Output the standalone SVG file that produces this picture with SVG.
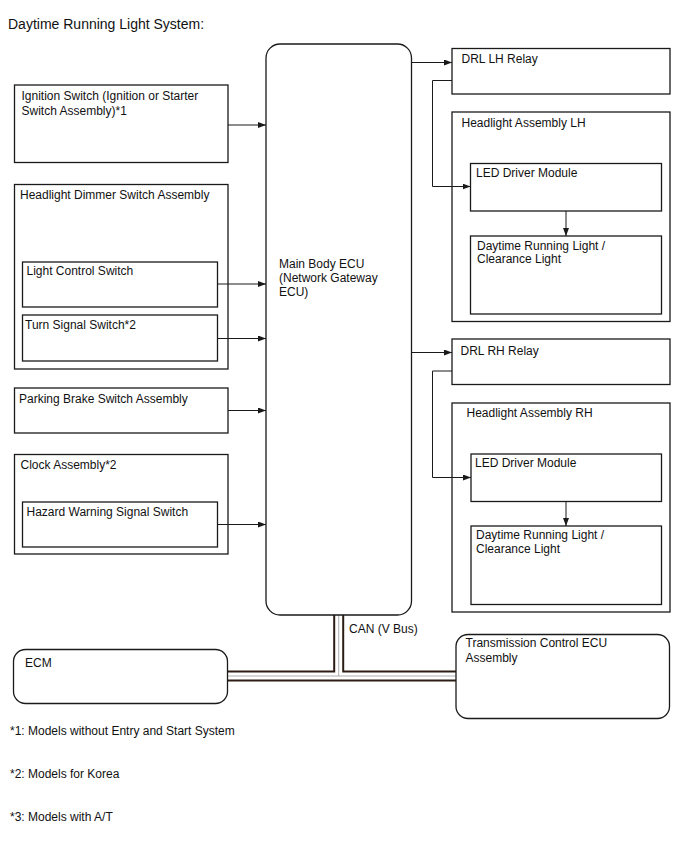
<svg xmlns="http://www.w3.org/2000/svg" width="688" height="852" viewBox="0 0 688 852">
<style>
text{font-family:"Liberation Sans",Arial,sans-serif;font-size:12px;fill:#111}
.b{fill:#fff;stroke:#1a1a1a;stroke-width:1.3}
.c{fill:none;stroke:#1a1a1a;stroke-width:1}
.t{font-size:14px}
</style>
<defs>
<marker id="a" viewBox="0 0 8 6" refX="8" refY="3" markerWidth="8" markerHeight="6" markerUnits="userSpaceOnUse" orient="auto">
<path d="M0,0L8,3L0,6z" fill="#1a1a1a"/>
</marker>
</defs>
<rect width="688" height="852" fill="#fff"/>
<text class="t" x="8" y="29">Daytime Running Light System:</text>

<g id="bus">
<path d="M227,676H456M338.7,615V676" fill="none" stroke="#2b1d14" stroke-width="11"/>
<path d="M227,676H456M338.7,615V676" fill="none" stroke="#fff" stroke-width="7"/>
<path d="M227,676H456M338.7,615V676" fill="none" stroke="#999" stroke-width="0.8"/>
<text x="349" y="633">CAN (V Bus)</text>
</g>

<g id="ecu">
<rect class="b" x="266" y="44" width="145.5" height="571" rx="14"/>
<text x="279" y="268">Main Body ECU</text>
<text x="279" y="282">(Network Gateway</text>
<text x="279" y="296">ECU)</text>
</g>

<g id="ignition">
<rect class="b" x="14.5" y="85" width="213.5" height="77.5"/>
<text x="21.5" y="100">Ignition Switch (Ignition or Starter</text>
<text x="21.5" y="115">Switch Assembly)*1</text>
</g>

<g id="dimmer">
<rect class="b" x="14.5" y="184.5" width="213.5" height="184.5"/>
<text x="20" y="198.5">Headlight Dimmer Switch Assembly</text>
</g>
<g id="lightctrl">
<rect class="b" x="22.5" y="262" width="195" height="45"/>
<text x="26.5" y="275">Light Control Switch</text>
</g>
<g id="turn">
<rect class="b" x="22.5" y="315" width="195" height="46"/>
<text x="25" y="328.5">Turn Signal Switch*2</text>
</g>

<g id="parking">
<rect class="b" x="14.5" y="388" width="213.5" height="45"/>
<text x="19" y="402.5">Parking Brake Switch Assembly</text>
</g>

<g id="clock">
<rect class="b" x="14.5" y="454.5" width="213.5" height="99.5"/>
<text x="20.5" y="469">Clock Assembly*2</text>
</g>
<g id="hazard">
<rect class="b" x="22.5" y="502" width="195" height="45"/>
<text x="26.5" y="516">Hazard Warning Signal Switch</text>
</g>

<g id="drl-lh-relay">
<rect class="b" x="452" y="48.5" width="218" height="45.5"/>
<text x="461.5" y="63">DRL LH Relay</text>
</g>
<g id="headlight-lh">
<rect class="b" x="452" y="112" width="218" height="209.5"/>
<text x="461.5" y="126.5">Headlight Assembly LH</text>
</g>
<g id="led-lh">
<rect class="b" x="470.5" y="163.5" width="191" height="47.5"/>
<text x="476" y="177">LED Driver Module</text>
</g>
<g id="drl-lh">
<rect class="b" x="470.5" y="236" width="191" height="78"/>
<text x="477" y="249.5">Daytime Running Light /</text>
<text x="477" y="263">Clearance Light</text>
</g>

<g id="drl-rh-relay">
<rect class="b" x="452" y="339" width="218" height="45.5"/>
<text x="460.5" y="355">DRL RH Relay</text>
</g>
<g id="headlight-rh">
<rect class="b" x="452" y="403" width="218" height="209"/>
<text x="466.5" y="417">Headlight Assembly RH</text>
</g>
<g id="led-rh">
<rect class="b" x="471" y="454" width="190.5" height="47.5"/>
<text x="475" y="467">LED Driver Module</text>
</g>
<g id="drl-rh">
<rect class="b" x="471" y="526" width="190.5" height="78.5"/>
<text x="476" y="539">Daytime Running Light /</text>
<text x="476" y="553">Clearance Light</text>
</g>

<g id="ecm">
<rect class="b" x="13.5" y="649.5" width="214" height="54" rx="12"/>
<text x="25" y="667">ECM</text>
</g>
<g id="tcm">
<rect class="b" x="456" y="634.5" width="213.5" height="84" rx="12"/>
<text x="465.5" y="647">Transmission Control ECU</text>
<text x="465.5" y="662">Assembly</text>
</g>

<g id="connectors">
<path class="c" d="M228,125H266" marker-end="url(#a)"/>
<path class="c" d="M217.5,284H266" marker-end="url(#a)"/>
<path class="c" d="M217.5,338.5H266" marker-end="url(#a)"/>
<path class="c" d="M228,410.5H266" marker-end="url(#a)"/>
<path class="c" d="M217.5,524.5H266" marker-end="url(#a)"/>
<path class="c" d="M411.5,62.5H452" marker-end="url(#a)"/>
<path class="c" d="M452,80.5H432.5V186.5H470.5" marker-end="url(#a)"/>
<path class="c" d="M566,211V236" marker-end="url(#a)"/>
<path class="c" d="M411.5,352.5H452" marker-end="url(#a)"/>
<path class="c" d="M452,371H432.5V477.5H471" marker-end="url(#a)"/>
<path class="c" d="M566,501.5V526" marker-end="url(#a)"/>
</g>

<text x="10" y="735">*1: Models without Entry and Start System</text>
<text x="10" y="778">*2: Models for Korea</text>
<text x="10" y="821">*3: Models with A/T</text>
</svg>
